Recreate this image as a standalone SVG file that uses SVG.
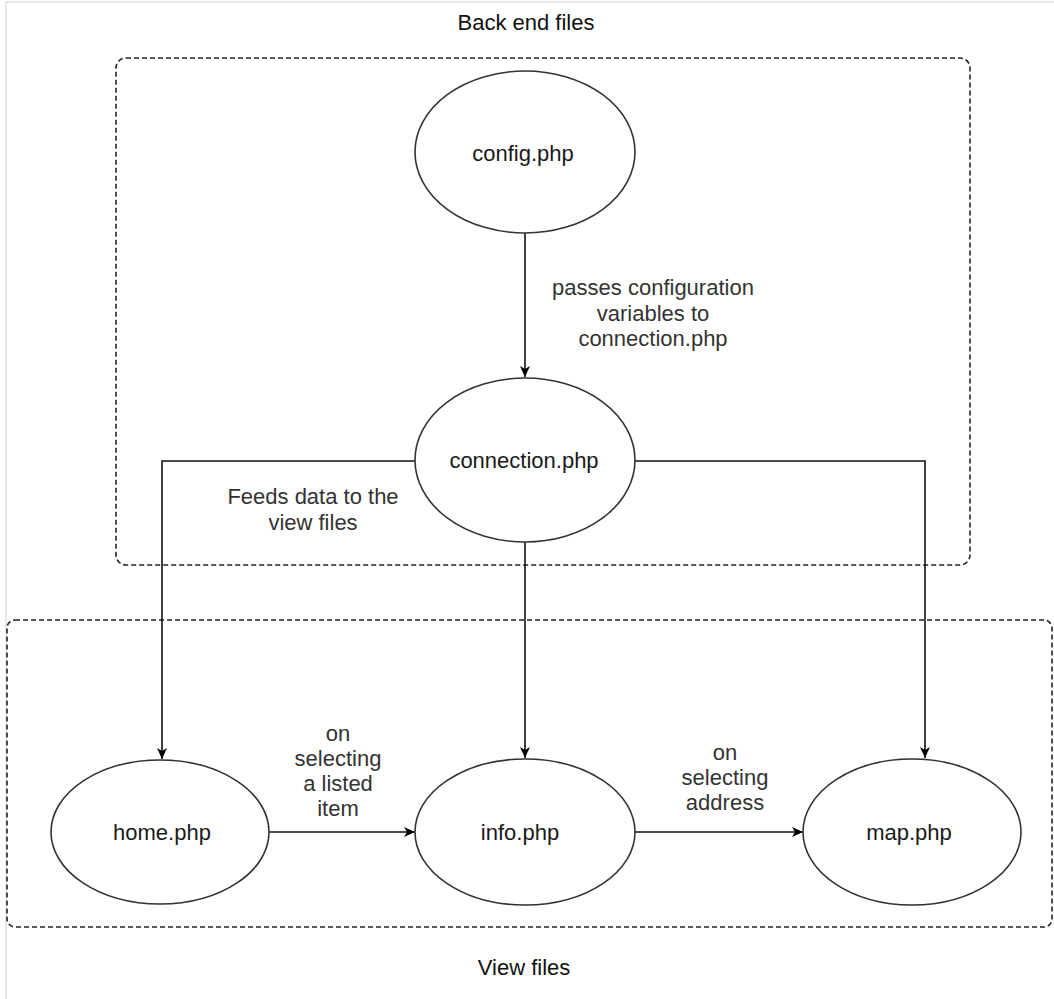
<svg xmlns="http://www.w3.org/2000/svg" width="1054" height="999" viewBox="0 0 1054 999">
<style>
  .page { stroke: #cfcfcf; stroke-width: 1; fill: none; }
  .group { fill: none; stroke: #222; stroke-width: 1.6; stroke-dasharray: 5 3; }
  .node ellipse { fill: #fff; stroke: #333; stroke-width: 1.6; }
  .node text { font-family: "Liberation Sans", Arial, sans-serif; font-size: 22px; fill: #1a1a1a; text-anchor: middle; }
  .edge { fill: none; stroke: #111; stroke-width: 1.6; }
  .lbl { font-family: "Liberation Sans", Arial, sans-serif; font-size: 22px; fill: #333; text-anchor: middle; }
  .title { font-family: "Liberation Sans", Arial, sans-serif; font-size: 22px; fill: #111; text-anchor: middle; }
</style>
<defs>
  <marker id="arrow" markerUnits="userSpaceOnUse" markerWidth="12" markerHeight="10" refX="11" refY="5" orient="auto">
    <path d="M0,0 L11,5 L0,10 L3,5 z" fill="#000"/>
  </marker>
</defs>
<rect width="1054" height="999" fill="#fff"/>
<path class="page" d="M6,999 V2 H1054"/>

<g id="backend-group">
  <rect class="group" x="116" y="58" width="854" height="507" rx="10"/>
  <text class="title" x="526" y="30">Back end files</text>
</g>
<g id="view-group">
  <rect class="group" x="7" y="620" width="1045" height="307" rx="8"/>
  <text class="title" x="524" y="975">View files</text>
</g>

<g id="connectors">
  <path class="edge" d="M525,233 V377" marker-end="url(#arrow)"/>
  <path class="edge" d="M415,461 H162 V759" marker-end="url(#arrow)"/>
  <path class="edge" d="M525,542 V758" marker-end="url(#arrow)"/>
  <path class="edge" d="M635,461 H925 V758" marker-end="url(#arrow)"/>
  <path class="edge" d="M269,832 H415" marker-end="url(#arrow)"/>
  <path class="edge" d="M635,832 H803" marker-end="url(#arrow)"/>
  <text class="lbl" x="653"><tspan x="653" y="295">passes configuration</tspan><tspan x="653" y="321">variables to</tspan><tspan x="653" y="346">connection.php</tspan></text>
  <text class="lbl" x="313"><tspan x="313" y="504">Feeds data to the</tspan><tspan x="313" y="530">view files</tspan></text>
  <text class="lbl" x="338"><tspan x="338" y="741">on</tspan><tspan x="338" y="766">selecting</tspan><tspan x="338" y="791">a listed</tspan><tspan x="338" y="816">item</tspan></text>
  <text class="lbl" x="725"><tspan x="725" y="760">on</tspan><tspan x="725" y="785">selecting</tspan><tspan x="725" y="810">address</tspan></text>
</g>

<g id="config" class="node">
  <ellipse cx="525" cy="152" rx="110" ry="81"/>
  <text x="523" y="161">config.php</text>
</g>
<g id="connection" class="node">
  <ellipse cx="525" cy="460" rx="110" ry="82"/>
  <text x="524" y="468">connection.php</text>
</g>
<g id="home" class="node">
  <ellipse cx="160" cy="832" rx="109" ry="72"/>
  <text x="162" y="840">home.php</text>
</g>
<g id="info" class="node">
  <ellipse cx="525" cy="832" rx="110" ry="73"/>
  <text x="520" y="840">info.php</text>
</g>
<g id="map" class="node">
  <ellipse cx="912" cy="832" rx="109" ry="73"/>
  <text x="909" y="840">map.php</text>
</g>
</svg>
